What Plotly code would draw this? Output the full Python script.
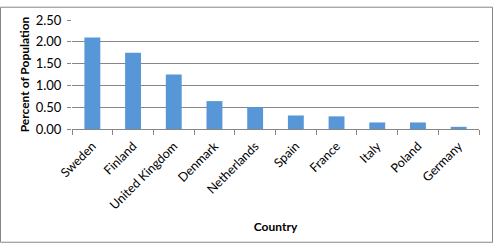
import plotly.graph_objects as go

countries = ["Sweden", "Finland", "United Kingdom", "Denmark", "Netherlands",
             "Spain", "France", "Italy", "Poland", "Germany"]
percent = [2.10, 1.75, 1.25, 0.64, 0.50, 0.31, 0.29, 0.15, 0.15, 0.05]
y_ticks = [0, 0.5, 1.0, 1.5, 2.0, 2.5]
y_ticklabels = ["0.00", "0.50", "1.00", "1.50", "2.00", "2.50"]

W, H = 493, 249
ml, mr, mt, mb = 72, 14, 14, 120
pw, ph = W - ml - mr, H - mt - mb

fig = go.Figure(go.Bar(
    x=countries, y=percent,
    marker=dict(color="#5797d8", line=dict(width=0)),
))

font = "Lato, Open Sans, sans-serif"
fig.update_layout(
    width=W, height=H,
    margin=dict(l=ml, r=mr, t=mt, b=mb),
    paper_bgcolor="white", plot_bgcolor="white",
    bargap=0.61,
    showlegend=False,
    font=dict(family=font, size=12, color="#000000"),
    xaxis=dict(
        type="category",
        tickson="boundaries",
        ticks="outside", ticklen=5, tickcolor="#868686",
        showline=True, linecolor="#868686", linewidth=1,
        tickangle=-45,
        tickfont=dict(size=12.5),
        ticklabelstandoff=4,
        title=dict(text="<b>Country</b>", font=dict(size=12), standoff=11),
        showgrid=False,
    ),
    yaxis=dict(
        range=[0, 2.5],
        tickvals=y_ticks, ticktext=y_ticklabels,
        showgrid=True, gridcolor="#868686", gridwidth=1,
        zeroline=False,
        ticks="outside", ticklen=4, tickcolor="#868686",
        showline=False,
        tickfont=dict(size=13),
        ticklabelstandoff=3,
        title=dict(text="<b>Percent of Population</b>", font=dict(size=12), standoff=3),
    ),
    shapes=[dict(
        type="rect", xref="paper", yref="paper",
        x0=-(ml - 0.5) / pw, x1=1 + (mr - 0.5) / pw,
        y0=-(mb - 0.5) / ph, y1=1 + (mt - 0.5) / ph,
        line=dict(color="#868686", width=1),
        layer="below",
    )],
)

fig.write_html("out.html")
